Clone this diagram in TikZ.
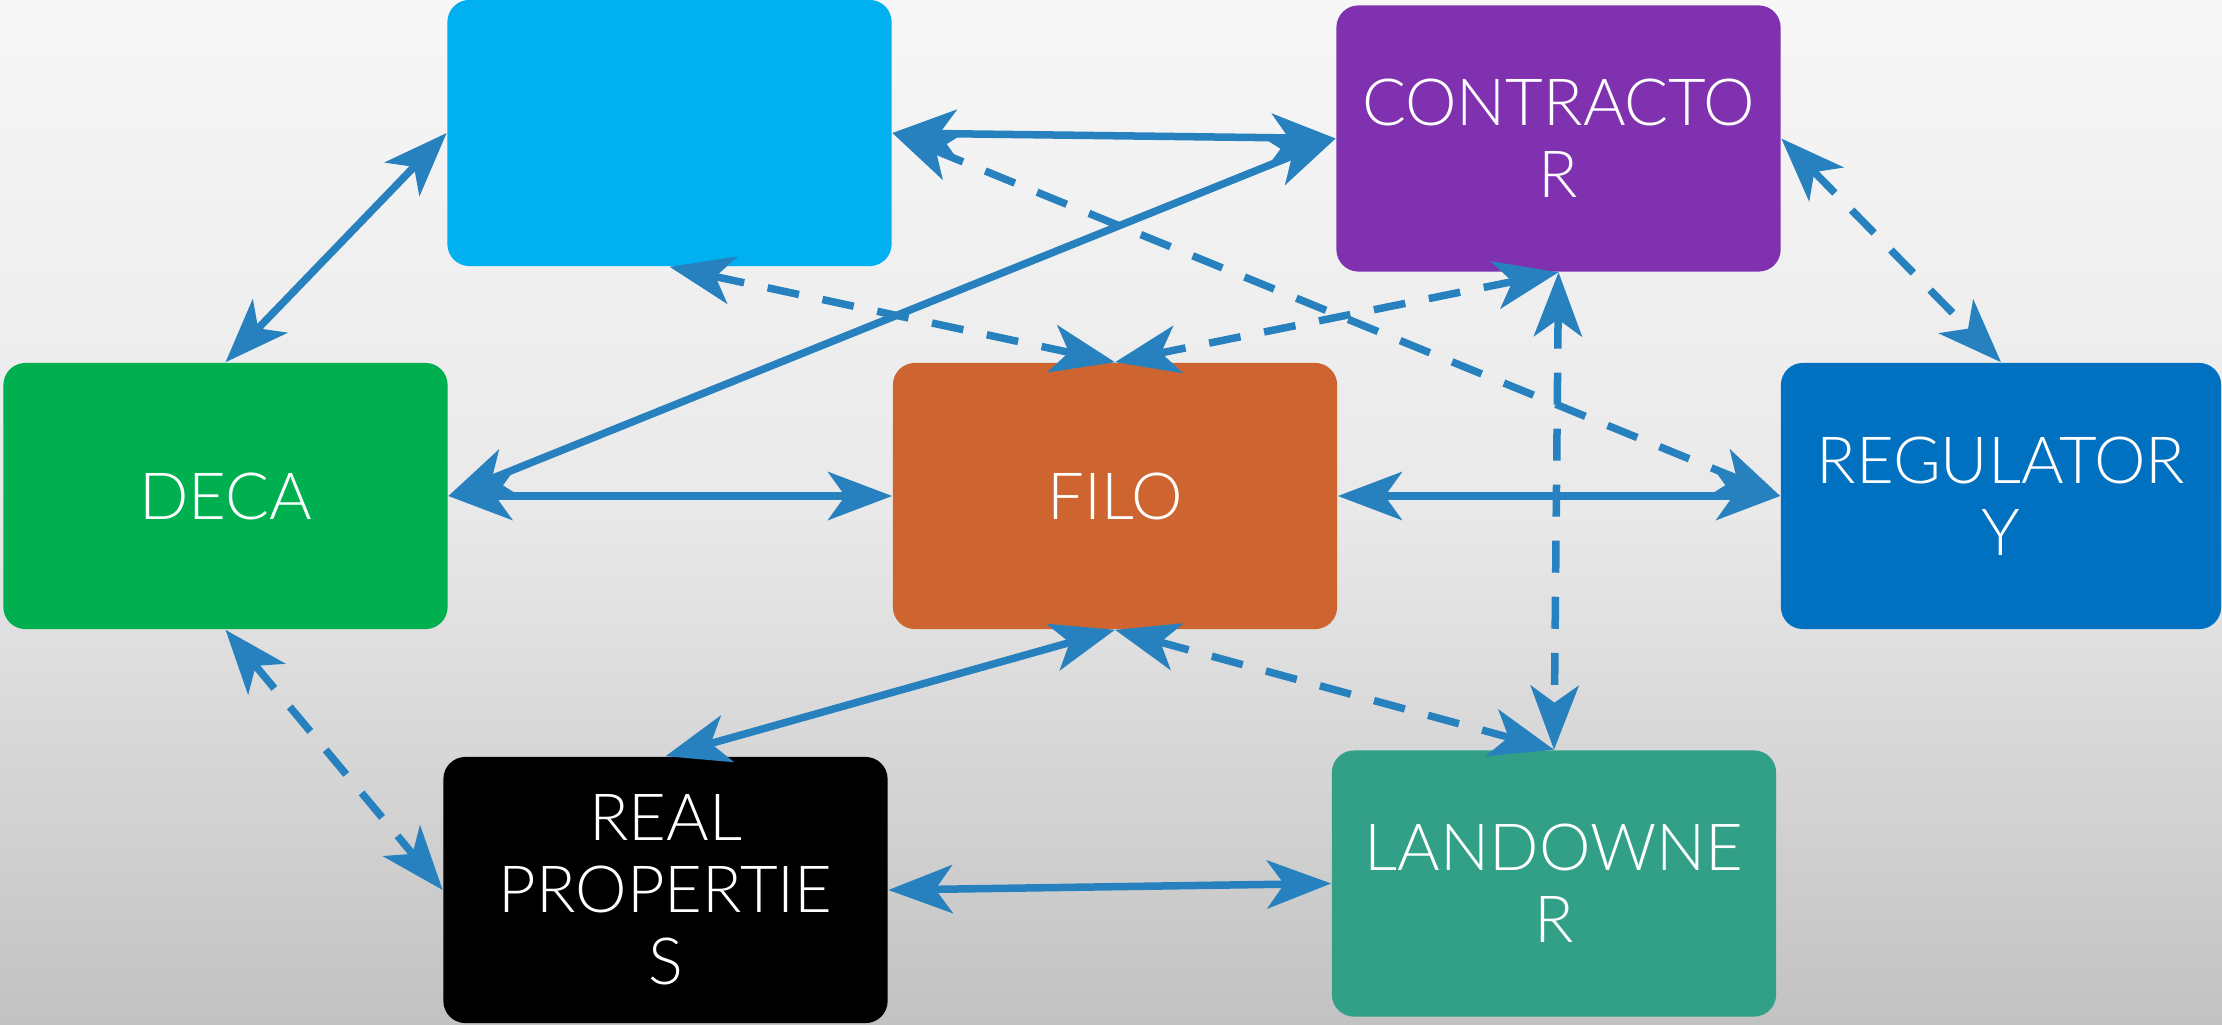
\documentclass[tikz,border=0pt]{standalone}
\usepackage{fontspec}
\IfFontExistsTF{Lato Light}
  {\setmainfont{Lato Light}\newcommand{\boxfontsize}{\fontsize{18.5}{20.5}\selectfont}}
  {\setmainfont{Liberation Sans}\newcommand{\boxfontsize}{\fontsize{17.5}{20.5}\selectfont}}
\usetikzlibrary{arrows.meta}
\definecolor{cblue}{HTML}{00B0F0}
\definecolor{cpurple}{HTML}{7F31AF}
\definecolor{cgreen}{HTML}{00B050}
\definecolor{corange}{HTML}{CE6530}
\definecolor{creg}{HTML}{0070C0}
\definecolor{cteal}{HTML}{31A087}
\definecolor{arrowc}{HTML}{2781BE}
\definecolor{bgtop}{HTML}{F7F7F7}
\definecolor{bgmid}{HTML}{E9E9E9}
\definecolor{bgbot}{HTML}{C2C2C2}
\begin{document}
\begin{tikzpicture}[x=0.01cm,y=-0.01cm,
  box/.style={rectangle, rounded corners=0.22cm, minimum width=4.44cm, minimum height=2.66cm,
    inner sep=0pt, text=white, align=center, font=\boxfontsize},
  conn/.style={draw=arrowc, line width=0.075cm,
    {Stealth[length=0.64cm,width=0.48cm,inset=0.17cm]}-{Stealth[length=0.64cm,width=0.48cm,inset=0.17cm]}},
  dsh/.style={conn, dash pattern=on 0.32cm off 0.24cm}]
\useasboundingbox (0,0) rectangle (2222,1024);
\shade[top color=bgtop, bottom color=bgbot, middle color=bgmid] (0,0) rectangle (2222,1024);

\node[box, fill=cblue]   (blue) at (669.5,133)   {};
\node[box, fill=cpurple] (con)  at (1558.5,138.5) {CONTRACTO\\R};
\node[box, fill=cgreen]  (deca) at (225.5,496)   {DECA};
\node[box, fill=corange] (filo) at (1115,496)    {FILO};
\node[box, fill=creg, minimum width=4.40cm] (reg) at (2001,496) {REGULATOR\\Y};
\node[box, fill=black]   (real) at (665.5,890)   {REAL\\PROPERTIE\\S};
\node[box, fill=cteal]   (land) at (1554,883.5)  {LANDOWNE\\R};

% solid connectors
\draw[conn] (deca.north) -- (blue.west);
\draw[conn] (blue.east) -- (con.west);
\draw[conn] (deca.east) -- (con.west);
\draw[conn] (deca.east) -- (filo.west);
\draw[conn] (filo.east) -- (reg.west);
\draw[conn] (filo.south) -- (real.north);
\draw[conn] (real.east) -- (land.west);
% dashed connectors
\draw[dsh] (blue.south) -- (filo.north);
\draw[dsh] (con.south) -- (filo.north);
\draw[dsh] (con.south) -- (land.north);
\draw[dsh] (blue.east) -- (reg.west);
\draw[dsh] (con.east) -- (reg.north);
\draw[dsh] (deca.south) -- (real.west);
\draw[dsh] (filo.south) -- (land.north);
\end{tikzpicture}
\end{document}
